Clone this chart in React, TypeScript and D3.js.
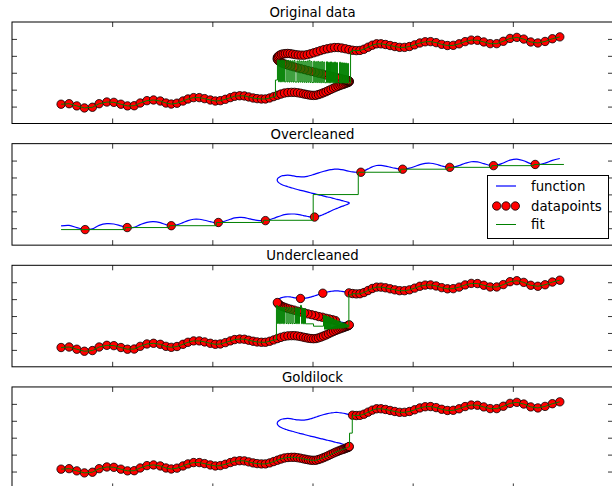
import React, { useEffect, useRef } from 'react';
import * as d3 from 'd3';

type Pt = [number, number];

const panelTitles = ['Original data', 'Overcleaned', 'Undercleaned', 'Goldilock'];
const xTicks = [1, 2, 3, 4, 5];
const yTicks = [1, 2, 3, 4, 5];
const legendLabels = ['function', 'datapoints', 'fit'];

// sampled curve, lower branch (left of the loop)
const lowerBranch: Pt[] = [
  [0.49, 1.14], [0.57, 1.17], [0.647, 1.04], [0.723, 0.92], [0.803, 0.96], [0.87, 1.17],
  [0.947, 1.27], [1.017, 1.25], [1.087, 1.14], [1.153, 1.04], [1.22, 1.05], [1.28, 1.21],
  [1.347, 1.35], [1.413, 1.39], [1.48, 1.33], [1.537, 1.21], [1.59, 1.15], [1.647, 1.2],
  [1.707, 1.33], [1.757, 1.45], [1.813, 1.53], [1.87, 1.53], [1.923, 1.47], [1.98, 1.39],
  [2.03, 1.33], [2.08, 1.35], [2.13, 1.43], [2.18, 1.53], [2.223, 1.61], [2.273, 1.64],
  [2.32, 1.63], [2.363, 1.57], [2.407, 1.51], [2.447, 1.47], [2.49, 1.45], [2.53, 1.45],
  [2.573, 1.51], [2.613, 1.59],
];

// lower branch running into the right nose of the loop
const noseApproach: Pt[] = [
  [2.65, 1.67], [2.685, 1.74], [2.72, 1.8], [2.755, 1.83], [2.79, 1.84], [2.82, 1.84],
  [2.85, 1.82], [2.88, 1.79], [2.91, 1.75], [2.935, 1.72], [2.96, 1.69], [2.985, 1.67],
  [3.01, 1.66], [3.035, 1.67], [3.06, 1.71], [3.085, 1.76], [3.11, 1.82], [3.135, 1.88],
  [3.16, 1.95], [3.185, 2.02], [3.21, 2.09], [3.233, 2.15], [3.255, 2.2], [3.275, 2.25],
  [3.293, 2.29], [3.31, 2.32], [3.325, 2.36], [3.338, 2.39], [3.349, 2.41], [3.358, 2.44],
  [3.364, 2.46], [3.367, 2.48],
];

// backward diagonal, near the right nose
const diagonalNear: Pt[] = [
  [3.365, 2.51], [3.358, 2.53], [3.346, 2.55], [3.33, 2.58], [3.31, 2.61], [3.286, 2.65],
  [3.26, 2.69],
];

// backward diagonal, rest of it up to the left nose
const diagonalFar: Pt[] = [
  [3.23, 2.73], [3.2, 2.78], [3.167, 2.83], [3.133, 2.87], [3.098, 2.93], [3.062, 2.97],
  [3.026, 3.03], [2.99, 3.08], [2.954, 3.13], [2.918, 3.19], [2.883, 3.24], [2.848, 3.29],
  [2.815, 3.35], [2.783, 3.4], [2.753, 3.45], [2.726, 3.51], [2.702, 3.56], [2.682, 3.62],
  [2.666, 3.68], [2.655, 3.74], [2.649, 3.8],
];

// top of the loop, left nose to the upper branch
const loopTop: Pt[] = [
  [2.648, 3.87], [2.652, 3.93], [2.661, 3.99], [2.674, 4.04], [2.69, 4.09], [2.708, 4.11],
  [2.729, 4.13], [2.752, 4.14], [2.777, 4.13], [2.803, 4.1], [2.83, 4.07], [2.858, 4.05],
  [2.887, 4.04], [2.917, 4.04], [2.948, 4.07], [2.98, 4.12], [3.013, 4.18], [3.046, 4.24],
  [3.08, 4.31], [3.114, 4.37], [3.149, 4.42], [3.184, 4.46], [3.22, 4.49], [3.256, 4.49],
  [3.292, 4.46], [3.328, 4.42], [3.364, 4.37],
];

const loopJoin: Pt[] = [[3.4, 4.33], [3.437, 4.31]];

// upper branch (right of the loop)
const upperBranch: Pt[] = [
  [3.474, 4.32], [3.514, 4.39], [3.555, 4.51], [3.597, 4.63], [3.64, 4.71], [3.684, 4.71],
  [3.729, 4.67], [3.775, 4.61], [3.822, 4.55], [3.87, 4.5], [3.919, 4.5], [3.969, 4.55],
  [4.02, 4.65], [4.072, 4.76], [4.125, 4.83], [4.179, 4.84], [4.234, 4.78], [4.29, 4.68],
  [4.347, 4.61], [4.405, 4.62], [4.464, 4.71], [4.524, 4.84], [4.585, 4.93], [4.647, 4.92],
  [4.71, 4.82], [4.774, 4.72], [4.839, 4.72], [4.905, 4.86], [4.972, 5.03], [5.04, 5.09],
  [5.109, 4.99], [5.179, 4.82], [5.25, 4.76], [5.322, 4.85], [5.395, 5.01], [5.469, 5.12],
];

// overcleaned: the few points that survived
const overPoints: Pt[] = [
  [0.73, 0.92], [1.15, 1.04], [1.59, 1.15], [2.06, 1.34], [2.53, 1.45], [3.02, 1.66],
  [3.483, 4.31], [3.9, 4.49], [4.37, 4.6], [4.807, 4.7], [5.223, 4.77],
];

// undercleaned: stray points left on top of the loop
const underExtra: Pt[] = [[2.88, 4.04], [3.103, 4.35], [3.364, 4.37]];

// fit, step levels (value holds until the next x)
const overFitSteps: Pt[] = [
  [0.49, 0.92], [0.71, 0.92], [1.13, 1.04], [1.57, 1.15], [2.04, 1.34], [2.51, 1.47],
  [3.007, 2.99], [3.457, 4.31], [3.88, 4.49], [4.35, 4.6], [4.79, 4.7], [5.21, 4.77],
  [5.51, 4.77],
];

const originalLoopSteps: Pt[] = [
  [2.613, 1.59], [2.63, 2.57],
  [2.65, 3.75], [2.66, 2.47], [2.67, 3.74], [2.68, 2.46], [2.69, 3.75], [2.7, 2.47],
  [2.71, 3.73], [2.72, 2.46], [2.735, 3.72], [2.745, 2.46], [2.755, 3.73], [2.765, 2.45],
  [2.775, 3.71], [2.785, 2.46], [2.795, 3.7], [2.805, 2.45], [2.815, 3.72], [2.825, 2.45],
  [2.845, 3.69], [2.855, 2.44], [2.865, 3.71], [2.875, 2.45], [2.885, 3.68], [2.895, 2.44],
  [2.905, 3.7], [2.915, 2.44], [2.925, 3.67], [2.935, 2.43], [2.945, 3.69], [2.955, 2.44],
  [2.965, 3.74], [2.975, 2.43], [2.985, 3.66], [2.995, 2.42], [3.012, 3.68], [3.022, 2.43],
  [3.032, 3.65], [3.042, 2.42], [3.052, 3.67], [3.062, 2.42], [3.072, 3.64], [3.082, 2.41],
  [3.092, 3.66], [3.102, 2.42], [3.112, 3.63], [3.122, 2.41], [3.14, 3.65], [3.15, 2.41],
  [3.16, 3.62], [3.17, 2.4], [3.18, 3.64], [3.19, 2.41], [3.2, 3.61], [3.21, 2.4],
  [3.22, 3.63], [3.23, 2.4], [3.24, 3.6], [3.25, 2.4], [3.27, 3.62], [3.28, 2.39],
  [3.29, 3.59], [3.3, 2.4], [3.31, 3.58], [3.32, 2.39], [3.33, 3.57], [3.34, 2.39],
  [3.35, 3.55], [3.36, 2.39],
  [3.38, 4.25], [3.4, 4.33],
];

const underLoopSteps: Pt[] = [
  [2.613, 1.59], [2.64, 3.63],
  [2.65, 2.56], [2.66, 3.55], [2.67, 2.55], [2.68, 3.53], [2.69, 2.56], [2.7, 3.52],
  [2.71, 2.55], [2.72, 3.52], [2.735, 2.56], [2.745, 3.5], [2.755, 2.55], [2.765, 3.51],
  [2.775, 2.56], [2.785, 3.49], [2.795, 2.55], [2.805, 3.48], [2.815, 2.56], [2.83, 3.5],
  [2.84, 2.55], [2.85, 3.47], [2.86, 2.55], [2.87, 3.47], [2.88, 3.63], [2.89, 2.55],
  [2.9, 3.45], [2.91, 2.54], [2.92, 3.44], [2.93, 2.54], [3.01, 2.4],
  [3.11, 3.05], [3.12, 2.22], [3.13, 3.02], [3.14, 2.22], [3.15, 2.98], [3.16, 2.23],
  [3.17, 2.93], [3.18, 2.23], [3.19, 2.88], [3.2, 2.24], [3.21, 2.82], [3.22, 2.25],
  [3.23, 2.77], [3.24, 2.26], [3.25, 2.72], [3.26, 2.27], [3.27, 2.67], [3.28, 2.28],
  [3.29, 2.62], [3.3, 2.29], [3.31, 2.58], [3.32, 2.31], [3.33, 2.53], [3.34, 2.33],
  [3.35, 2.48], [3.355, 2.36],
  [3.363, 4.25], [3.4, 4.33],
];

const goldNoseSteps: Pt[] = [[3.367, 2.48], [3.37, 3.27], [3.397, 4.26], [3.4, 4.33]];

// expand step levels into a polyline
const stepped = (pts: Pt[]): Pt[] => {
  const out: Pt[] = [pts[0]];
  for (let i = 1; i < pts.length; i++) {
    out.push([pts[i][0], pts[i - 1][1]], pts[i]);
  }
  return out;
};

const functionCurve: Pt[] = [
  ...lowerBranch, ...noseApproach, ...diagonalNear, ...diagonalFar, ...loopTop, ...loopJoin, ...upperBranch,
];

const panels = [
  {
    points: [...lowerBranch, ...noseApproach, ...diagonalNear, ...diagonalFar, ...loopTop, ...loopJoin, ...upperBranch],
    fit: [...lowerBranch, ...stepped(originalLoopSteps), ...loopJoin.slice(1), ...upperBranch],
  },
  {
    points: overPoints,
    fit: stepped(overFitSteps),
  },
  {
    points: [...lowerBranch, ...noseApproach, ...diagonalFar, ...underExtra, ...loopJoin, ...upperBranch],
    fit: [...lowerBranch, ...stepped(underLoopSteps), ...loopJoin.slice(1), ...upperBranch],
  },
  {
    points: [...lowerBranch, ...noseApproach, ...loopJoin, ...upperBranch],
    fit: [...lowerBranch, ...noseApproach, ...stepped(goldNoseSteps), ...loopJoin.slice(1), ...upperBranch],
  },
];

const App = () => {
  const chartRef = useRef<SVGSVGElement>(null);

  useEffect(() => {
    const svg = d3.select(chartRef.current);
    svg.selectAll('*').remove();

    const font = 'DejaVu Sans, sans-serif';
    const left = 12;
    const right = 613;
    const panelH = 101.5;
    const panelStep = 121.65;

    const x = d3.scaleLinear().domain([0, 6]).range([left, right]);

    panels.forEach((p, i) => {
      const top = 22 + i * panelStep;
      const bottom = top + panelH;
      const y = d3.scaleLinear().domain([0, 6]).range([bottom, top]);
      const g = svg.append('g');

      // function
      g.append('path')
        .attr('d', d3.line<Pt>().x(d => x(d[0])).y(d => y(d[1])).curve(d3.curveCatmullRom)(functionCurve))
        .attr('fill', 'none')
        .attr('stroke', '#0000ff')
        .attr('stroke-width', 1.2);

      // datapoints
      g.selectAll('circle')
        .data(p.points)
        .enter()
        .append('circle')
        .attr('cx', d => x(d[0]))
        .attr('cy', d => y(d[1]))
        .attr('r', 4.2)
        .attr('fill', '#ff0000')
        .attr('stroke', '#000')
        .attr('stroke-width', 0.8);

      // fit
      g.append('path')
        .attr('d', d3.line<Pt>().x(d => x(d[0])).y(d => y(d[1]))(p.fit))
        .attr('fill', 'none')
        .attr('stroke', '#008000')
        .attr('stroke-width', 1);

      // frame
      g.append('rect')
        .attr('x', left)
        .attr('y', top)
        .attr('width', right - left)
        .attr('height', panelH)
        .attr('fill', 'none')
        .attr('stroke', '#000')
        .attr('stroke-width', 1);

      // ticks pointing inward, no labels
      const noLabel = () => '';
      const axes = [
        { axis: d3.axisLeft(y).tickValues(yTicks), t: `translate(${left},0)` },
        { axis: d3.axisRight(y).tickValues(yTicks), t: `translate(${right},0)` },
        { axis: d3.axisTop(x).tickValues(xTicks), t: `translate(0,${top})` },
        { axis: d3.axisBottom(x).tickValues(xTicks), t: `translate(0,${bottom})` },
      ];
      axes.forEach(a => {
        const ag = g.append('g')
          .attr('transform', a.t)
          .call(a.axis.tickSizeInner(-5).tickSizeOuter(0).tickFormat(noLabel));
        ag.select('.domain').remove();
        ag.selectAll('line').attr('stroke', '#000').attr('stroke-width', 0.8);
      });

      // title
      g.append('text')
        .attr('x', (left + right) / 2)
        .attr('y', top - 5)
        .attr('text-anchor', 'middle')
        .attr('font-family', font)
        .attr('font-size', 13.3)
        .attr('fill', '#000')
        .text(panelTitles[i]);
    });

    // legend in the second panel
    const lg = svg.append('g');
    lg.append('rect')
      .attr('x', 487.5)
      .attr('y', 175.5)
      .attr('width', 121)
      .attr('height', 63)
      .attr('fill', '#fff')
      .attr('stroke', '#000')
      .attr('stroke-width', 1);

    const rows = [186, 206, 224.5];
    lg.append('line')
      .attr('x1', 496).attr('x2', 516)
      .attr('y1', rows[0]).attr('y2', rows[0])
      .attr('stroke', '#0000ff').attr('stroke-width', 1.2);
    lg.selectAll('circle')
      .data([496.7, 506, 515.3])
      .enter()
      .append('circle')
      .attr('cx', d => d)
      .attr('cy', rows[1])
      .attr('r', 4.2)
      .attr('fill', '#ff0000')
      .attr('stroke', '#000')
      .attr('stroke-width', 0.8);
    lg.append('line')
      .attr('x1', 496).attr('x2', 516)
      .attr('y1', rows[2]).attr('y2', rows[2])
      .attr('stroke', '#008000').attr('stroke-width', 1);

    lg.selectAll('text')
      .data(legendLabels)
      .enter()
      .append('text')
      .attr('x', 531)
      .attr('y', (d, i) => rows[i] + 4.8)
      .attr('font-family', font)
      .attr('font-size', 13.3)
      .attr('fill', '#000')
      .text(d => d);
  }, []);

  return (
    <svg
      ref={chartRef}
      width={612}
      height={486}
      style={{ position: 'absolute', left: 0, top: 0, background: '#fff' }}
    />
  );
};

export default App;
